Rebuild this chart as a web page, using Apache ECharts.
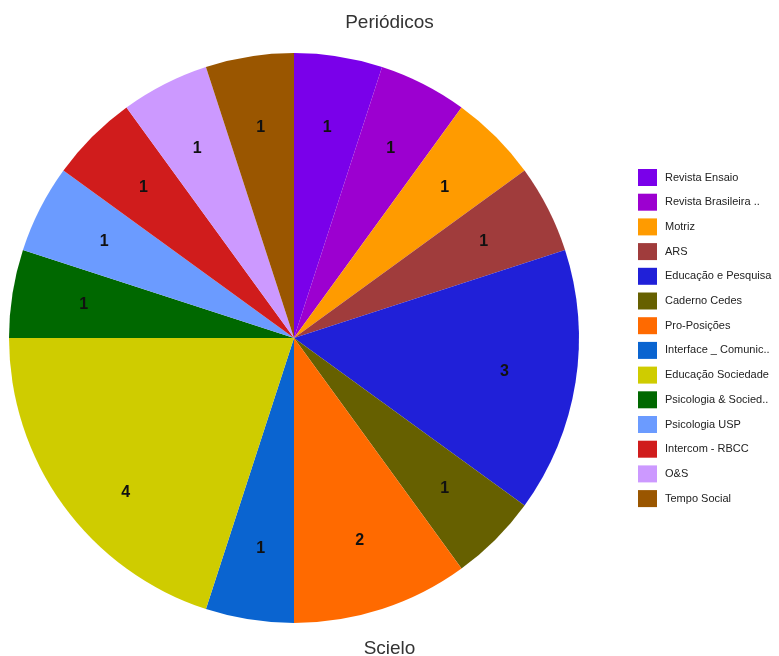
<!DOCTYPE html>
<html><head><meta charset="utf-8">
<script src="https://cdn.jsdelivr.net/npm/echarts@6/dist/echarts.min.js"></script>
<style>html,body{margin:0;padding:0;background:#fff}#c{width:779px;height:656px}</style>
</head><body><div id="c"></div>
<script>
const categories = ["Revista Ensaio","Revista Brasileira ..","Motriz","ARS","Educação e Pesquisa","Caderno Cedes","Pro-Posições","Interface _ Comunic..","Educação Sociedade","Psicologia & Socied..","Psicologia USP","Intercom - RBCC","O&S","Tempo Social"];
const values = [1,1,1,1,3,1,2,1,4,1,1,1,1,1];
const colors = ["#7a00ea","#9c00d0","#ff9b00","#a03c3c","#2020d8","#666000","#ff6a00","#0a64d0","#cfcc00","#006800","#6b9bff","#d01c1c","#cc99ff","#9a5600"];

const data = categories.map((n,i)=>({name:n,value:values[i],itemStyle:{color:colors[i]}}));
const chart = echarts.init(document.getElementById('c'),null,{renderer:'canvas'});
chart.setOption({
  animation:false,
  color: colors,
  title:[
    {text:'Periódicos',left:'center',top:8,textStyle:{fontFamily:'Liberation Sans',fontSize:19,fontWeight:'normal',color:'#333'}},
    {text:'Scielo',left:'center',top:634,textStyle:{fontFamily:'Liberation Sans',fontSize:19,fontWeight:'normal',color:'#333'}}
  ],
  legend:{
    orient:'vertical',left:633,top:164,itemWidth:19,itemHeight:17,itemGap:7.7,icon:'rect',
    selectedMode:false,
    textStyle:{fontFamily:'Liberation Sans',fontSize:11,color:'#222',padding:[0,0,0,3]},
    data:categories
  },
  series:[
    {type:'pie',center:[294,338],radius:[0,285],startAngle:90,clockwise:true,
     label:{show:false},labelLine:{show:false},data:data,silent:true},
    {type:'pie',center:[294,338],radius:[135,285],startAngle:90,clockwise:true,
     silent:true,legendHoverLink:false,
     itemStyle:{color:'rgba(0,0,0,0)'},
     label:{show:true,position:'inside',formatter:'{c}',fontFamily:'Liberation Sans',fontSize:16,fontWeight:'bold',color:'#111'},
     labelLine:{show:false},
     data:categories.map((n,i)=>{
       const d={name:'_'+n,value:values[i]};
       if(values[i]===4) d.label={offset:[4,29]};
       return d;
     })}
  ]
});
</script></body></html>
